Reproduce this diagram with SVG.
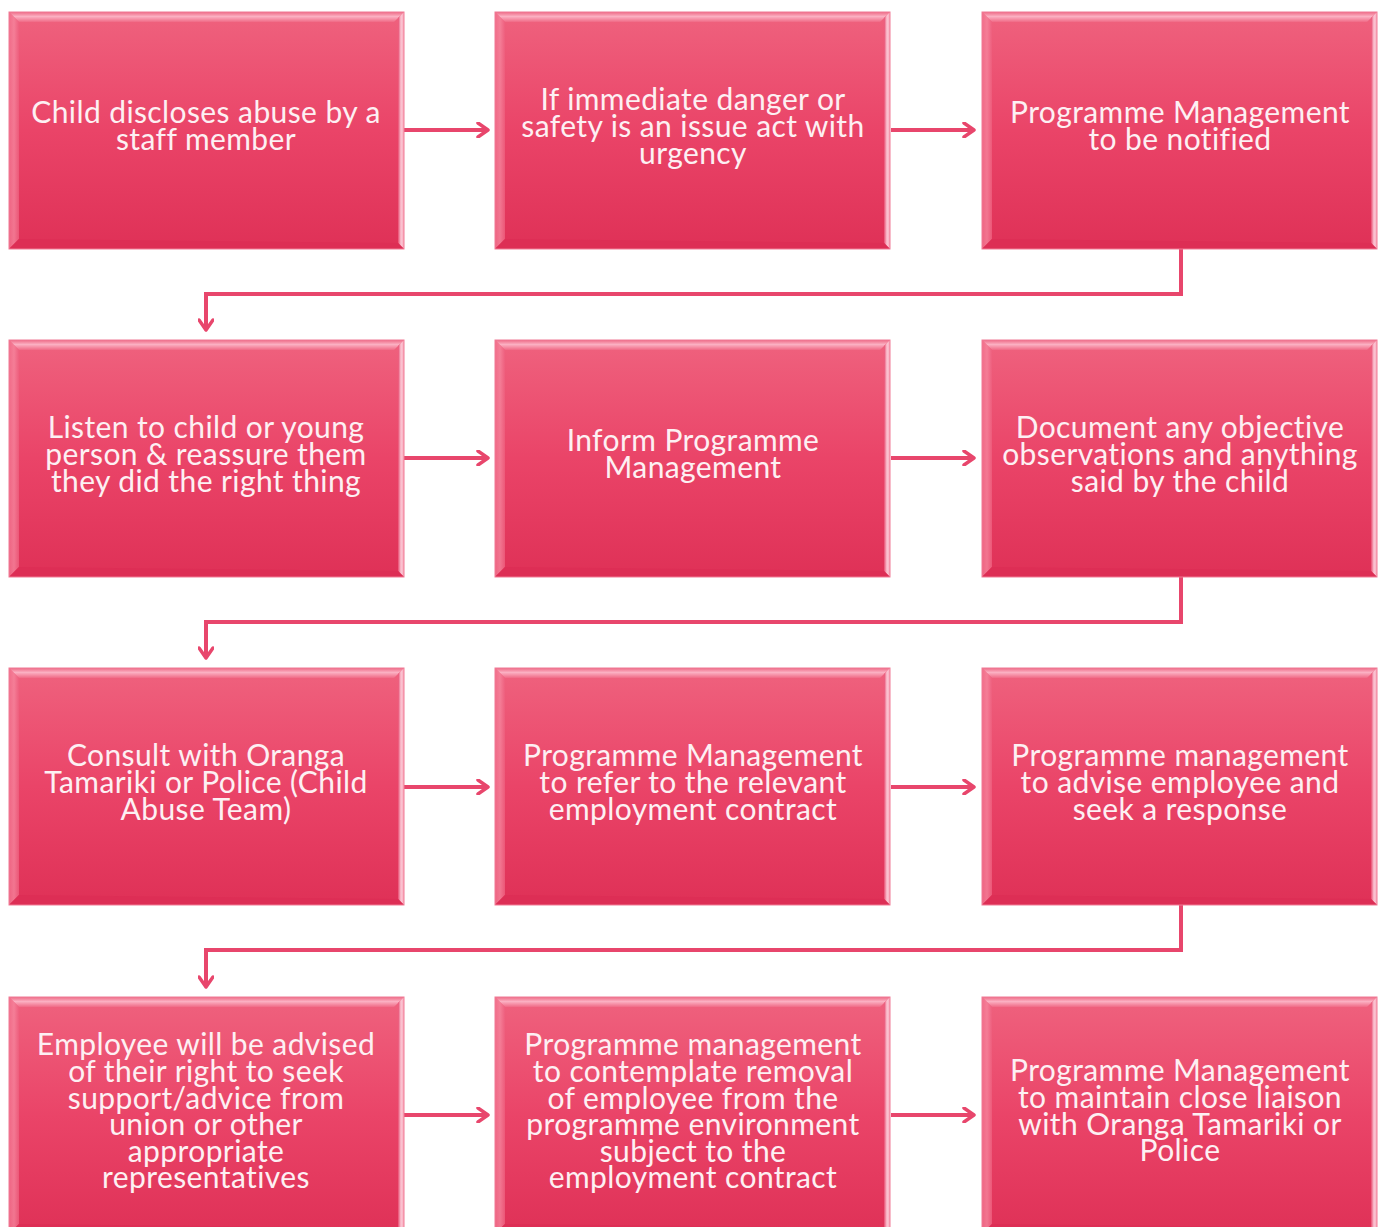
<svg xmlns="http://www.w3.org/2000/svg" width="1384" height="1227" viewBox="0 0 1384 1227">
<defs>
<linearGradient id="fill" x1="0" y1="0" x2="0" y2="1">
<stop offset="0" stop-color="#ef627e"/>
<stop offset="0.5" stop-color="#ea4468"/>
<stop offset="1" stop-color="#df3157"/>
</linearGradient>
<linearGradient id="topb" x1="0" y1="0" x2="0" y2="1">
<stop offset="0" stop-color="#ee6a86"/>
<stop offset="0.45" stop-color="#fbb0c2"/>
<stop offset="1" stop-color="#f06a86"/>
</linearGradient>
<linearGradient id="leftb" x1="0" y1="0" x2="1" y2="0">
<stop offset="0" stop-color="#f2708c"/>
<stop offset="0.5" stop-color="#f6869e"/>
<stop offset="1" stop-color="#ee5f7e"/>
</linearGradient>
<linearGradient id="rightb" x1="0" y1="0" x2="1" y2="0">
<stop offset="0" stop-color="#e84c70"/>
<stop offset="0.5" stop-color="#fbc6d4"/>
<stop offset="1" stop-color="#f9a9bc"/>
</linearGradient>
<marker id="ah" viewBox="0 0 16 16" refX="13" refY="8" markerWidth="16" markerHeight="16" markerUnits="userSpaceOnUse" orient="auto">
<path d="M3,1 L13,8 L3,15" fill="none" stroke="#e8466c" stroke-width="3.5" stroke-linecap="round" stroke-linejoin="round"/>
</marker>
<g id="bevel">
<rect x="0" y="0" width="395" height="237" fill="url(#fill)"/>
<polygon points="0,0 395,0 385,10 10,10" fill="url(#topb)"/>
<polygon points="0,0 10,10 10,227 0,237" fill="url(#leftb)" opacity="0.8"/>
<polygon points="395,0 395,237 389,231 389,6" fill="url(#rightb)"/>
<polygon points="0,237 10,227 389,231 395,237" fill="#dd2e55"/>
<rect x="0" y="0" width="395" height="237" fill="none" stroke="#f07b95" stroke-width="1"/>
</g>
</defs>
<style>
.t{font-family:"Lato","Open Sans",sans-serif;font-size:30px;font-weight:400;letter-spacing:0.4px;fill:#fdf0f3;text-anchor:middle}
.c{fill:none;stroke:#e8466c;stroke-width:4}
</style>
<g id="connectors">
<line class="c" x1="404" y1="130" x2="488" y2="130" marker-end="url(#ah)"/>
<line class="c" x1="891" y1="130" x2="974" y2="130" marker-end="url(#ah)"/>
<polyline class="c" points="1181,249 1181,294 206,294 206,330" marker-end="url(#ah)"/>
<line class="c" x1="404" y1="458" x2="488" y2="458" marker-end="url(#ah)"/>
<line class="c" x1="891" y1="458" x2="974" y2="458" marker-end="url(#ah)"/>
<polyline class="c" points="1181,577 1181,622 206,622 206,658" marker-end="url(#ah)"/>
<line class="c" x1="404" y1="787" x2="488" y2="787" marker-end="url(#ah)"/>
<line class="c" x1="891" y1="787" x2="974" y2="787" marker-end="url(#ah)"/>
<polyline class="c" points="1181,905 1181,950 206,950 206,987" marker-end="url(#ah)"/>
<line class="c" x1="404" y1="1115" x2="488" y2="1115" marker-end="url(#ah)"/>
<line class="c" x1="891" y1="1115" x2="974" y2="1115" marker-end="url(#ah)"/>
</g>
<g id="n1"><use href="#bevel" x="9" y="12"/><text class="t"><tspan x="206" y="123">Child discloses abuse by a</tspan><tspan x="206" y="150">staff member</tspan></text></g>
<g id="n2"><use href="#bevel" x="495" y="12"/><text class="t"><tspan x="693" y="110">If immediate danger or</tspan><tspan x="693" y="137">safety is an issue act with</tspan><tspan x="693" y="164">urgency</tspan></text></g>
<g id="n3"><use href="#bevel" x="982" y="12"/><text class="t"><tspan x="1180" y="123">Programme Management</tspan><tspan x="1180" y="150">to be notified</tspan></text></g>
<g id="n4"><use href="#bevel" x="9" y="340"/><text class="t"><tspan x="206" y="438">Listen to child or young</tspan><tspan x="206" y="465">person &amp; reassure them</tspan><tspan x="206" y="492">they did the right thing</tspan></text></g>
<g id="n5"><use href="#bevel" x="495" y="340"/><text class="t"><tspan x="693" y="451">Inform Programme</tspan><tspan x="693" y="478">Management</tspan></text></g>
<g id="n6"><use href="#bevel" x="982" y="340"/><text class="t"><tspan x="1180" y="438">Document any objective</tspan><tspan x="1180" y="465">observations and anything</tspan><tspan x="1180" y="492">said by the child</tspan></text></g>
<g id="n7"><use href="#bevel" x="9" y="668"/><text class="t"><tspan x="206" y="766">Consult with Oranga</tspan><tspan x="206" y="793">Tamariki or Police (Child</tspan><tspan x="206" y="820">Abuse Team)</tspan></text></g>
<g id="n8"><use href="#bevel" x="495" y="668"/><text class="t"><tspan x="693" y="766">Programme Management</tspan><tspan x="693" y="793">to refer to the relevant</tspan><tspan x="693" y="820">employment contract</tspan></text></g>
<g id="n9"><use href="#bevel" x="982" y="668"/><text class="t"><tspan x="1180" y="766">Programme management</tspan><tspan x="1180" y="793">to advise employee and</tspan><tspan x="1180" y="820">seek a response</tspan></text></g>
<g id="n10"><use href="#bevel" x="9" y="997"/><text class="t"><tspan x="206" y="1055">Employee will be advised</tspan><tspan x="206" y="1082">of their right to seek</tspan><tspan x="206" y="1109">support/advice from</tspan><tspan x="206" y="1135">union or other</tspan><tspan x="206" y="1162">appropriate</tspan><tspan x="206" y="1188">representatives</tspan></text></g>
<g id="n11"><use href="#bevel" x="495" y="997"/><text class="t"><tspan x="693" y="1055">Programme management</tspan><tspan x="693" y="1082">to contemplate removal</tspan><tspan x="693" y="1109">of employee from the</tspan><tspan x="693" y="1135">programme environment</tspan><tspan x="693" y="1162">subject to the</tspan><tspan x="693" y="1188">employment contract</tspan></text></g>
<g id="n12"><use href="#bevel" x="982" y="997"/><text class="t"><tspan x="1180" y="1081">Programme Management</tspan><tspan x="1180" y="1108">to maintain close liaison</tspan><tspan x="1180" y="1135">with Oranga Tamariki or</tspan><tspan x="1180" y="1161">Police</tspan></text></g>
</svg>
